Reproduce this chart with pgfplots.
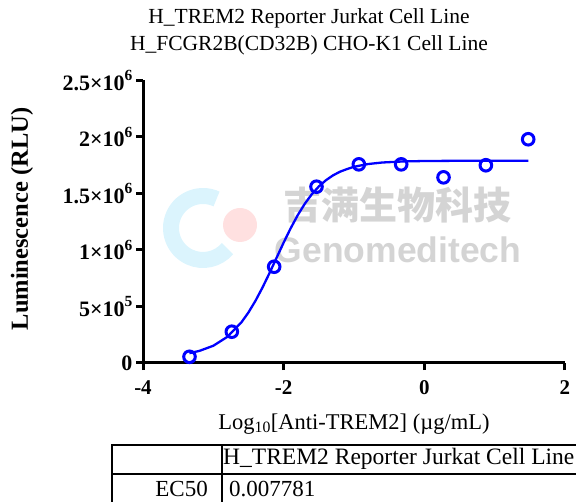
\documentclass[border=0pt]{standalone}
\usepackage{pgfplots}
\pgfplotsset{compat=1.18}
\usepackage{fontspec}
\setmainfont{Liberation Serif}
\newfontfamily\cjk{Noto Sans CJK SC}
\newfontfamily\wsans{Liberation Sans}
\definecolor{pblue}{RGB}{0,0,255}
\newcommand{\sci}[2]{#1×10\raisebox{0.42em}{\fontsize{15.5}{15.5}\selectfont #2}}
\begin{document}
\begin{tikzpicture}[x=1pt,y=1pt]
\path[use as bounding box] (0,0) rectangle (576,501);
\clip (0,0) rectangle (576,501);
% watermark
\draw[cyan!14, line width=16pt] (203,273) ++(65:32) arc (65:320:32);
\fill[red!12] (240,276) circle (17);
\node[text=black!17, font=\cjk\bfseries\fontsize{38}{38}\selectfont] at (397,296) {吉满生物科技};
\node[text=black!17, font=\wsans\bfseries\fontsize{35.5}{35.5}\selectfont] at (398,251) {Genomeditech};
% titles
\node[font=\fontsize{21.5}{21.5}\selectfont] at (309,483) {H\_TREM2 Reporter Jurkat Cell Line};
\node[font=\fontsize{21.5}{21.5}\selectfont] at (309,456) {H\_FCGR2B(CD32B) CHO-K1 Cell Line};
\node[rotate=90, font=\bfseries\fontsize{24.5}{24.5}\selectfont] at (22,282) {Luminescence (RLU)};
\node[font=\fontsize{22.5}{22.5}\selectfont] at (354,77) {Log\textsubscript{10}[Anti-TREM2] (µg/mL)};
\begin{axis}[at={(143pt,138pt)}, anchor=south west, scale only axis,
  width=422pt, height=282.5pt,
  xmin=-4, xmax=2, ymin=0, ymax=2.5e6,
  axis lines=left, axis line style={-, line width=3pt},
  xtick={-4,-2,0,2}, xticklabels={-4,-2,0,2},
  ytick={0,5e5,1e6,1.5e6,2e6,2.5e6},
  yticklabels={0,\sci{5}{5},\sci{1}{6},\sci{1.5}{6},\sci{2}{6},\sci{2.5}{6}},
  scaled y ticks=false,
  tick align=outside, major tick length=7pt,
  tick style={line width=3pt, black},
  ticklabel style={font=\bfseries\fontsize{21}{21}\selectfont},
  yticklabel style={font=\bfseries\fontsize{22}{22}\selectfont},
  xticklabel style={yshift=-7pt},
  /pgf/number format/assume math mode=true,
  clip=false]
\addplot[pblue, line width=2.3pt] coordinates {
(-3.34,87100) (-3.2,106700) (-3.0,152600) (-2.8,231800) (-2.6,360700)
(-2.5,447900) (-2.4,551300) (-2.3,669000) (-2.2,797700) (-2.1,932200)
(-2.0,1065800) (-1.9,1192900) (-1.8,1308300) (-1.7,1408800) (-1.6,1493300)
(-1.5,1562100) (-1.4,1617000) (-1.3,1659800) (-1.2,1692600) (-1.1,1716000)
(-1.0,1736400) (-0.8,1760700) (-0.6,1774200) (-0.3,1783700) (0.0,1787500)
(0.5,1789500) (1.0,1789900) (1.48,1790000)};
\addplot[only marks, mark=o, mark size=5.8pt, mark options={line width=3pt, pblue}] coordinates {
(-3.339,55000) (-2.737,277000) (-2.135,852000) (-1.533,1560000) (-0.931,1758000)
(-0.329,1758000) (0.273,1643000) (0.875,1750000) (1.477,1980000)};
\end{axis}
% table
\draw[line width=1.5pt] (112,-10) -- (112,56) -- (600,56);
\draw[line width=1.5pt] (112,27) -- (600,27);
\draw[line width=1.5pt] (222,-10) -- (222,56);
\node[anchor=west, inner sep=0pt, font=\fontsize{23.5}{23.5}\selectfont] at (223,42) {H\_TREM2 Reporter Jurkat Cell Line};
\node[anchor=east, inner sep=0pt, font=\fontsize{23}{23}\selectfont] at (208,12) {EC50};
\node[anchor=west, inner sep=0pt, font=\fontsize{23}{23}\selectfont] at (229,12) {0.007781};
\end{tikzpicture}
\end{document}
